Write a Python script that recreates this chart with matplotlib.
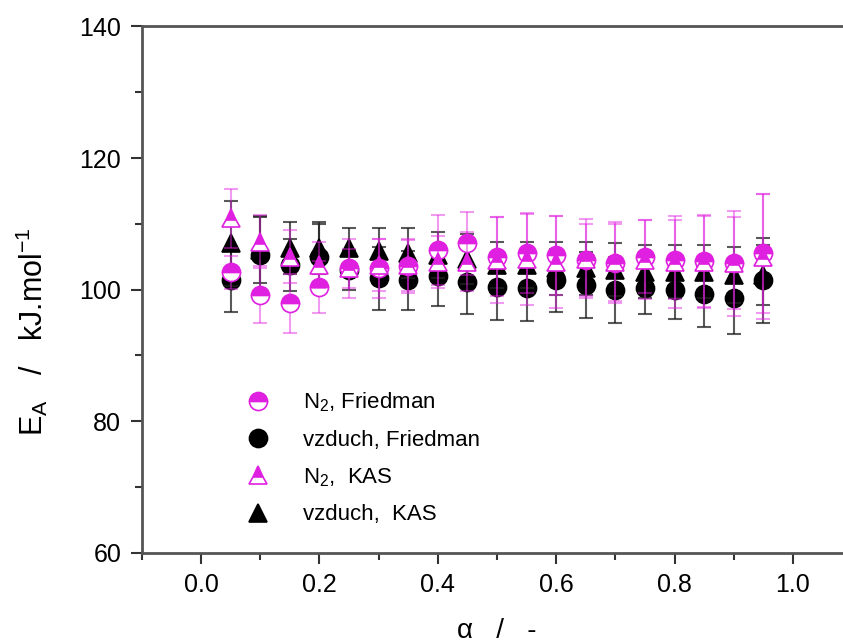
import numpy as np
import matplotlib
matplotlib.use('Agg')
import matplotlib.pyplot as plt
from matplotlib.ticker import MultipleLocator, FormatStrFormatter

plt.rcParams['font.family'] = ['Liberation Sans', 'DejaVu Sans']
plt.rcParams['mathtext.fontset'] = 'custom'
plt.rcParams['mathtext.rm'] = 'Liberation Sans'

# data
alpha = [0.05, 0.10, 0.15, 0.20, 0.25, 0.30, 0.35, 0.40, 0.45, 0.50,
         0.55, 0.60, 0.65, 0.70, 0.75, 0.80, 0.85, 0.90, 0.95]

n2_fried = [102.6, 99.2, 97.9, 100.4, 103.2, 103.2, 103.5, 106.0, 107.0, 105.0,
            105.5, 105.2, 104.5, 104.0, 105.0, 104.5, 104.3, 104.0, 105.5]
n2_fried_err = [2.5, 4.3, 4.5, 4.0, 4.5, 4.5, 4.0, 5.3, 4.8, 6.0,
                6.0, 6.0, 5.5, 6.0, 5.5, 6.0, 7.0, 7.0, 9.0]

vz_fried = [101.4, 105.2, 103.7, 105.0, 103.0, 101.7, 101.4, 102.0, 101.2, 100.4,
            100.2, 101.4, 100.7, 99.9, 100.2, 100.0, 99.3, 98.7, 101.4]
vz_fried_err = [4.8, 6.0, 4.0, 5.0, 3.0, 4.8, 4.5, 4.5, 4.9, 5.0,
                5.0, 4.8, 5.0, 5.0, 4.0, 4.5, 5.0, 5.5, 6.5]

n2_kas = [110.8, 107.3, 105.0, 103.7, 103.2, 103.7, 103.7, 104.2, 104.2, 104.5,
          104.7, 104.2, 104.7, 104.2, 104.5, 104.2, 104.2, 104.0, 105.0]
n2_kas_err = [4.5, 4.0, 4.0, 3.5, 3.0, 4.0, 4.0, 4.0, 4.5, 6.5,
              7.0, 7.0, 6.0, 6.0, 6.0, 7.0, 7.0, 8.0, 9.5]

vz_kas = [107.0, 106.0, 106.3, 106.3, 106.3, 105.8, 105.5, 105.2, 104.7, 103.7,
          103.7, 103.2, 103.2, 103.0, 102.7, 102.7, 102.7, 102.2, 102.2]
vz_kas_err = [6.5, 5.0, 4.0, 4.0, 3.0, 3.5, 3.8, 3.5, 3.8, 3.5,
              3.5, 4.0, 4.0, 4.0, 4.0, 4.0, 4.0, 4.3, 4.5]

magenta = '#e020e0'
black = '#000000'

fig = plt.figure(figsize=(8.43, 6.43), dpi=100)
ax = fig.add_axes([0.1684, 0.1407, 0.8423, 0.8181])

def series(y, err, marker, col, fill, label, ecol, ealpha):
    ax.errorbar(alpha, y, yerr=err, fmt='none', ecolor=ecol, alpha=ealpha,
                elinewidth=1.5, capsize=5, capthick=1.5)
    ln, = ax.plot(alpha, y, linestyle='none', marker=marker, markersize=13,
                  color=col, markeredgecolor=col, markeredgewidth=1.2,
                  fillstyle=fill, markerfacecoloralt='white', label=label)
    return ln

# black first, magenta drawn over them
h2 = series(vz_fried, vz_fried_err, 'o', black, 'full', 'vzduch, Friedman', '#222222', 0.75)
h4 = series(vz_kas, vz_kas_err, '^', black, 'full', 'vzduch,  KAS', '#222222', 0.75)
h1 = series(n2_fried, n2_fried_err, 'o', magenta, 'top', r'N$_\mathregular{2}$, Friedman', magenta, 0.45)
h3 = series(n2_kas, n2_kas_err, '^', magenta, 'top', r'N$_\mathregular{2}$,  KAS', magenta, 0.45)

ax.set_xlim(-0.1, 1.1)
ax.set_ylim(60, 140)
ax.xaxis.set_major_locator(MultipleLocator(0.2))
ax.xaxis.set_minor_locator(MultipleLocator(0.1))
ax.yaxis.set_major_locator(MultipleLocator(20))
ax.yaxis.set_minor_locator(MultipleLocator(10))
ax.xaxis.set_major_formatter(FormatStrFormatter('%.1f'))

for s in ['left', 'bottom', 'top']:
    ax.spines[s].set_color('#555555')
    ax.spines[s].set_linewidth(2)
ax.spines['right'].set_visible(False)
ax.tick_params(which='major', direction='out', length=8, width=1.5,
               color='#333333', labelsize=18, pad=7)
ax.tick_params(which='minor', direction='out', length=5, width=1.5, color='#333333')
ax.tick_params(top=False, right=False)

ax.set_xlabel('α   /   -', fontsize=20)
ax.xaxis.set_label_coords(0.5, -0.125)
ax.set_ylabel(r'E$_\mathregular{A}$   /   kJ.mol$^\mathregular{-1}$', fontsize=22)
ax.yaxis.set_label_coords(-0.13, 0.42)

ax.legend(handles=[h1, h2, h3, h4], loc='upper left', bbox_to_anchor=(0.12, 0.325),
          frameon=False, fontsize=16, handletextpad=1.0, labelspacing=0.7,
          borderaxespad=0)

fig.savefig('out.png', dpi=100)
